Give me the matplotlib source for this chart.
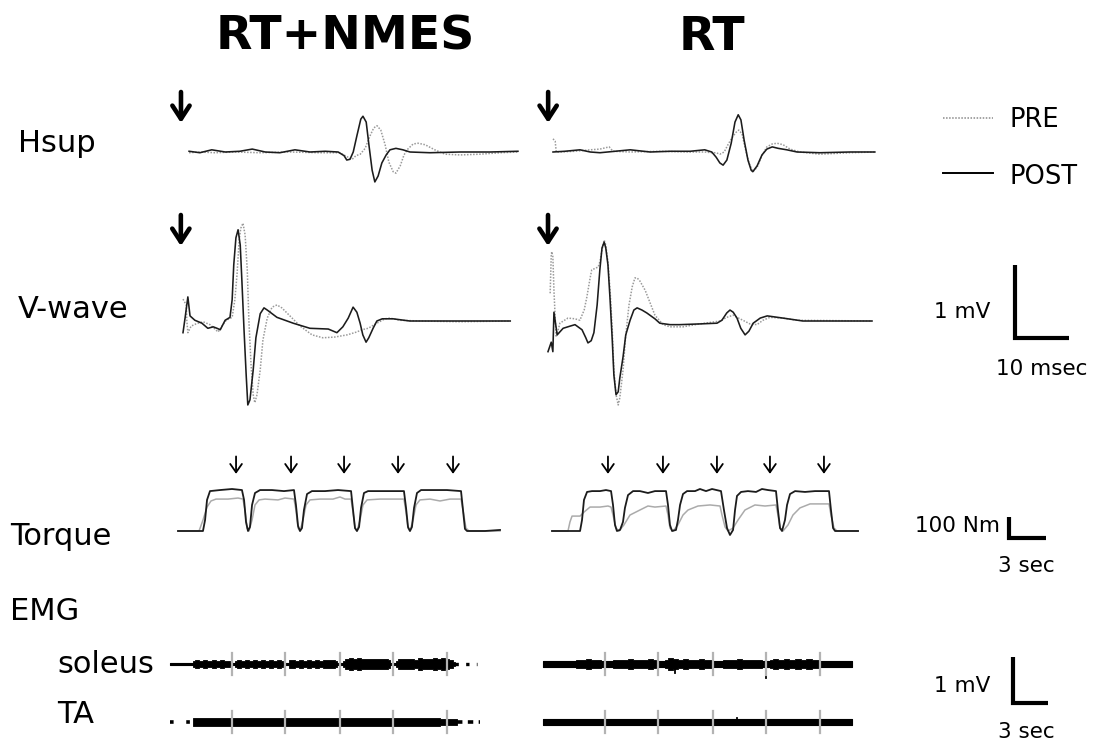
import numpy as np
import matplotlib
matplotlib.use("Agg")
import matplotlib.pyplot as plt
from matplotlib.lines import Line2D

plt.rcParams['font.family'] = ['DejaVu Sans']

W, H = 1099, 745
fig = plt.figure(figsize=(W / 100, H / 100), dpi=100)

# ---------------- data ----------------
# Hsup recordings: time (ms), amplitude (mV)
hsup_nmes_post_t = [0.2, 2.2, 4.4, 6.9, 9.6, 11.9, 14.3, 17.0, 19.8, 22.6, 25.4, 27.8, 28.9, 29.4, 30.0, 30.6, 31.3,
                    32.0, 32.4, 33.0, 33.5, 34.1, 34.6, 35.2, 35.9, 36.7, 37.4, 38.5, 39.8, 41.1, 44.8, 50.4, 55.9, 61.1]
hsup_nmes_post_v = [0.01, -0.01, 0.03, 0.0, 0.01, 0.04, 0.0, -0.01, 0.03, 0.0, 0.01, 0.0, -0.05, -0.11, -0.10, 0.0,
                    0.23, 0.45, 0.49, 0.41, 0.10, -0.25, -0.41, -0.33, -0.15, -0.04, 0.03, 0.05, 0.03, 0.0, -0.01,
                    0.0, 0.0, 0.01]
hsup_nmes_pre_t = [0.2, 2.2, 5.0, 8.7, 13.3, 18.9, 24.4, 28.1, 29.6, 30.4, 31.1, 31.9, 32.8, 33.7, 34.4, 35.0, 35.7,
                   36.5, 37.2, 38.0, 38.5, 39.3, 40.0, 40.7, 41.7, 42.6, 43.9, 45.7, 47.6, 50.4, 54.1, 57.8, 61.1]
hsup_nmes_pre_v = [-0.01, 0.0, -0.01, 0.0, -0.01, 0.0, -0.01, -0.01, -0.07, -0.10, -0.05, -0.03, 0.05, 0.22, 0.33,
                   0.36, 0.30, 0.10, -0.14, -0.27, -0.29, -0.19, -0.04, 0.04, 0.11, 0.12, 0.10, 0.03, -0.03, -0.04,
                   -0.03, -0.01, 0.0]
hsup_rt_post_t = [0, 2.2, 5.0, 6.9, 8.7, 11.5, 14.3, 18.0, 21.7, 25.4, 28.1, 29.4, 30.2, 30.9, 31.5, 32.2, 33.0,
                  33.7, 34.3, 34.8, 35.4, 36.1, 36.7, 37.0, 37.8, 38.7, 39.6, 40.6, 41.7, 43.3, 45.2, 49.4, 55.0, 59.6]
hsup_rt_post_v = [0, 0.01, 0.03, 0, -0.01, 0.01, 0.03, 0, 0.01, 0.01, 0.03, 0, -0.07, -0.15, -0.18, -0.11, 0.12,
                  0.41, 0.51, 0.44, 0.16, -0.11, -0.25, -0.27, -0.19, -0.04, 0.04, 0.07, 0.05, 0.03, 0, -0.01, 0, 0]
hsup_rt_pre_t = [0, 0.4, 0.6, 1.3, 4.1, 6.9, 8.7, 10.4, 11.1, 14.3, 19.8, 25.4, 28.1, 29.4, 30.2, 30.9, 31.7, 32.4,
                 33.1, 33.9, 34.4, 35.0, 35.6, 36.3, 37.0, 37.8, 38.7, 39.6, 40.6, 41.5, 42.6, 43.9, 45.7, 49.4,
                 55.0, 59.6]
hsup_rt_pre_v = [0.18, 0.15, 0, 0, 0.01, 0.03, 0.04, 0.07, 0.01, 0, 0.01, 0, 0, -0.01, -0.01, -0.03, 0, 0.10, 0.19,
                 0.27, 0.30, 0.25, 0.05, -0.15, -0.27, -0.21, -0.05, 0.07, 0.11, 0.12, 0.10, 0.04, 0, -0.03, -0.01, 0]

# V-wave recordings: time (ms), amplitude (mV)
vwave_nmes_post_t = [0, 0.4, 0.9, 1.3, 2.2, 3.5, 4.6, 5.6, 6.3, 6.9, 7.8, 8.7, 9.1, 9.4, 9.8, 10.2, 10.6, 10.9, 11.3,
                     11.7, 12.0, 12.4, 13.0, 13.5, 14.3, 15.0, 15.6, 17.4, 20.4, 23.5, 26.9, 28.5, 29.6, 30.6, 31.5,
                     32.2, 32.8, 33.3, 33.9, 34.4, 35.2, 35.9, 36.9, 38.9, 42.0, 49.4, 60.6]
vwave_nmes_post_v = [-0.16, 0.05, 0.33, 0.07, 0.01, -0.03, -0.10, -0.08, -0.10, -0.12, 0.01, 0.05, 0.29, 0.77, 1.14,
                     1.25, 1.04, 0.56, -0.12, -0.74, -1.15, -1.08, -0.67, -0.23, 0.10, 0.18, 0.15, 0.05, -0.03, -0.10,
                     -0.11, -0.16, -0.08, 0.04, 0.19, 0.12, -0.03, -0.19, -0.29, -0.23, -0.10, 0, 0.03, 0.03, 0, 0, 0]
vwave_nmes_pre_t = [0, 0.6, 0.7, 0.9, 1.5, 2.4, 3.7, 5.0, 6.5, 7.2, 8.0, 9.1, 9.6, 10.0, 10.4, 10.7, 11.1, 11.5, 11.9,
                    12.2, 12.6, 13.0, 13.3, 13.7, 14.3, 14.8, 15.6, 16.5, 17.4, 18.3, 19.8, 21.7, 23.9, 25.9, 28.1,
                    30.4, 32.2, 33.1, 34.3, 35.9, 37.4, 38.3, 40.2, 43.9, 51.3, 60.6]
vwave_nmes_pre_v = [0.30, 0.22, 0.01, -0.16, -0.07, -0.04, -0.01, -0.05, -0.15, -0.07, 0.01, 0.05, 0.29, 0.63, 1.11,
                    1.27, 1.34, 1.18, 0.70, 0.01, -0.60, -1.01, -1.12, -1.01, -0.67, -0.26, 0.04, 0.19, 0.22, 0.18,
                    0.07, -0.07, -0.19, -0.23, -0.22, -0.19, -0.15, -0.12, -0.10, -0.03, 0.03, 0.04, 0.01, 0, -0.01, 0]
vwave_rt_post_t = [0, 0.6, 0.9, 1.1, 1.7, 2.8, 4.1, 5.0, 6.3, 7.0, 7.4, 8.0, 8.5, 9.1, 9.6, 10.0, 10.4, 10.7, 11.1,
                   11.5, 11.9, 12.2, 12.6, 13.0, 13.3, 13.9, 14.4, 15.2, 15.9, 16.5, 17.4, 18.3, 19.8, 20.7, 22.6,
                   24.4, 28.1, 31.3, 32.2, 33.1, 33.7, 34.3, 35.0, 35.7, 36.5, 37.2, 38.0, 39.3, 40.6, 43.5, 47.2, 60.0]
vwave_rt_post_v = [-0.42, -0.29, -0.42, 0.12, -0.19, -0.10, -0.07, -0.05, -0.12, -0.23, -0.30, -0.27, -0.16, 0.22,
                   0.70, 1.00, 1.08, 1.00, 0.77, 0.29, -0.26, -0.74, -1.01, -0.97, -0.78, -0.49, -0.19, 0.01, 0.15,
                   0.18, 0.15, 0.11, 0.03, -0.03, -0.05, -0.05, -0.04, -0.03, 0.01, 0.11, 0.15, 0.12, 0.04, -0.10,
                   -0.19, -0.14, -0.03, 0.04, 0.07, 0.04, 0, 0]
vwave_rt_pre_t = [0.4, 0.6, 0.7, 0.9, 1.1, 1.5, 1.9, 2.2, 3.7, 5.0, 5.9, 6.7, 7.2, 7.8, 8.1, 9.3, 9.6, 10.0, 10.4,
                  10.7, 11.1, 11.5, 11.9, 12.2, 12.6, 13.0, 13.3, 13.9, 14.4, 15.0, 15.6, 16.1, 16.5, 17.0, 18.0,
                  18.9, 19.8, 21.3, 22.6, 25.0, 28.1, 31.9, 33.1, 34.3, 35.0, 36.1, 37.4, 38.7, 39.8, 41.1, 43.5,
                  46.1, 60.0]
vwave_rt_pre_v = [0.38, 0.90, 0.95, 0.88, 0.42, -0.22, -0.12, -0.03, 0.04, 0.03, 0.01, 0.15, 0.33, 0.59, 0.70, 0.74,
                  0.81, 0.97, 1.11, 1.04, 0.81, 0.42, -0.12, -0.67, -1.01, -1.15, -1.05, -0.67, -0.19, 0.22, 0.47,
                  0.59, 0.59, 0.55, 0.42, 0.25, 0.08, -0.05, -0.08, -0.08, -0.04, 0, 0.05, 0.08, 0.05, 0.01, -0.04,
                  -0.05, 0.01, 0.05, 0.04, 0.01, 0]

# Torque: time (s), torque (Nm)
torque_nmes_post_t = [0, 2.03, 2.20, 2.36, 2.60, 3.41, 4.39, 5.20, 5.37, 5.53, 5.69, 5.85, 6.02, 6.26, 6.67, 7.64,
                      8.62, 9.43, 9.59, 9.76, 9.92, 10.08, 10.24, 10.49, 10.89, 11.95, 13.01, 14.07, 14.23, 14.39,
                      14.55, 14.72, 14.88, 15.12, 15.45, 16.42, 17.40, 18.37, 18.54, 18.70, 18.86, 19.02, 19.19,
                      19.43, 19.76, 20.73, 21.87, 23.01, 23.17, 23.33, 23.50, 24.96, 26.18]
torque_nmes_post_nm = [0, 0, 52, 148, 190, 195, 200, 195, 148, 43, 0, 19, 124, 181, 195, 195, 190, 195, 124, 24, 0,
                       14, 100, 176, 190, 190, 195, 190, 100, 14, 0, 19, 110, 181, 190, 190, 190, 190, 110, 19, 0,
                       19, 110, 181, 195, 195, 195, 190, 100, 10, 0, 0, 5]
torque_nmes_pre_t = [0, 1.71, 2.03, 2.36, 2.68, 3.09, 4.07, 4.88, 5.28, 5.45, 5.61, 5.77, 6.02, 6.26, 6.59, 7.07,
                     8.13, 8.70, 9.43, 9.59, 9.76, 9.92, 10.16, 10.41, 10.73, 11.54, 12.60, 13.17, 13.58, 14.07,
                     14.23, 14.39, 14.55, 14.80, 15.04, 15.37, 16.42, 17.48, 18.37, 18.54, 18.70, 18.86, 19.11,
                     19.35, 19.67, 20.49, 21.30, 22.11, 23.01, 23.17, 23.41, 23.66, 24.96, 26.18]
torque_nmes_pre_nm = [0, 0, 52, 114, 143, 152, 152, 157, 152, 100, 14, 0, 52, 124, 148, 152, 148, 157, 152, 100, 14,
                      0, 52, 124, 148, 152, 152, 162, 152, 152, 90, 14, 0, 52, 124, 148, 152, 152, 152, 90, 14, 0,
                      52, 124, 148, 152, 143, 152, 152, 100, 14, 0, 0, 0]
torque_rt_post_t = [0, 2.28, 2.44, 2.60, 2.85, 3.25, 3.90, 4.39, 4.80, 4.96, 5.12, 5.28, 5.53, 5.77, 5.93, 6.18,
                    6.59, 7.15, 7.80, 8.37, 9.27, 9.43, 9.59, 9.76, 10.08, 10.24, 10.41, 10.65, 10.98, 11.63, 12.03,
                    12.52, 13.01, 13.74, 13.98, 14.23, 14.47, 14.72, 14.88, 15.04, 15.37, 15.93, 16.59, 17.07,
                    17.56, 18.21, 18.37, 18.54, 18.70, 18.94, 19.11, 19.35, 19.76, 20.57, 21.38, 22.52, 22.68,
                    22.85, 23.01, 24.88]
torque_rt_post_nm = [0, 0, 52, 148, 186, 190, 190, 195, 190, 124, 29, 0, 5, 43, 110, 171, 190, 190, 181, 190, 190,
                     124, 29, 0, 5, 52, 124, 176, 190, 190, 200, 190, 200, 190, 100, 14, -19, 5, 100, 167, 186, 190,
                     186, 200, 195, 190, 100, 14, 0, 52, 124, 176, 190, 186, 190, 190, 100, 14, 0, 0]
torque_rt_pre_t = [0, 1.30, 1.46, 1.63, 2.28, 2.60, 3.09, 3.90, 4.55, 4.80, 4.96, 5.20, 5.45, 5.85, 6.34, 7.15,
                   7.80, 8.37, 9.27, 9.43, 9.59, 9.84, 10.24, 10.65, 11.06, 11.87, 12.85, 13.66, 13.82, 14.07,
                   14.31, 14.72, 15.12, 15.69, 16.50, 17.32, 18.21, 18.37, 18.54, 18.78, 19.19, 19.59, 20.16,
                   20.98, 21.79, 22.52, 22.68, 22.93, 23.17, 24.88]
torque_rt_pre_nm = [0, 0, 43, 71, 71, 90, 114, 114, 119, 114, 76, 14, 0, 29, 76, 100, 119, 114, 119, 76, 14, 0, 29,
                    76, 100, 119, 124, 119, 76, 19, 0, 14, 52, 100, 124, 119, 124, 76, 14, 0, 29, 76, 110, 129, 129,
                    129, 76, 14, 0, 0]
# stimulation times during the contractions (s)
stim_nmes_s = [4.72, 9.19, 13.50, 17.89, 22.36]
stim_rt_s = [4.55, 9.02, 13.41, 17.72, 22.11]
# stimulus onset for the evoked responses (ms)
stim_hsup_ms = [-1.3, -0.9]
stim_vwave_ms = [-0.4, 0.0]

# EMG: burst onsets/offsets (s) and half-amplitude envelope (mV), sampled evenly within each burst
emg_marks_s = [5.30, 9.83, 14.53, 19.06, 23.68]
sol_nmes_on = [1.97, 5.56, 10.17, 14.79, 19.32]
sol_nmes_off = [5.13, 9.66, 14.27, 18.80, 24.36]
sol_nmes_amp = [[0.06, 0.08, 0.07, 0.09, 0.075, 0.08, 0.075, 0.085, 0.075, 0.06],
                [0.06, 0.09, 0.075, 0.08, 0.075, 0.085, 0.075, 0.08, 0.075, 0.085, 0.075, 0.09, 0.06],
                [0.09, 0.08, 0.075, 0.085, 0.075, 0.08, 0.075, 0.09, 0.075, 0.08, 0.09, 0.08, 0.06],
                [0.06, 0.11, 0.12, 0.10, 0.13, 0.11, 0.115, 0.10, 0.115, 0.11, 0.10, 0.105, 0.08],
                [0.06, 0.11, 0.105, 0.10, 0.115, 0.09, 0.12, 0.105, 0.115, 0.105, 0.12, 0.105, 0.12, 0.105, 0.08,
                 0.045]]
sol_nmes_rest = 0.026
sol_nmes_span = [0.0, 24.4, 26.2]
sol_nmes_spikes = [(23.68, -0.20, 0.24)]

ta_nmes_on = [1.97]
ta_nmes_off = [24.53]
ta_nmes_amp = [[0.08, 0.085, 0.085, 0.08, 0.09, 0.085, 0.08, 0.085, 0.085, 0.08, 0.085, 0.09, 0.08, 0.085, 0.085,
                0.085, 0.08, 0.085, 0.08, 0.085, 0.085, 0.08, 0.075, 0.07]]
ta_nmes_span = [0.0, 1.97, 24.53, 26.5]

sol_rt_on = [2.56, 5.73, 10.43, 15.13, 19.40]
sol_rt_off = [5.21, 9.66, 14.44, 18.97, 23.68]
sol_rt_amp = [[0.07, 0.09, 0.08, 0.10, 0.08, 0.09, 0.07],
              [0.07, 0.08, 0.09, 0.08, 0.10, 0.09, 0.08, 0.09, 0.10, 0.08],
              [0.09, 0.12, 0.10, 0.09, 0.10, 0.08, 0.09, 0.10, 0.08, 0.09],
              [0.07, 0.09, 0.08, 0.09, 0.10, 0.08, 0.09, 0.08, 0.09, 0.07],
              [0.08, 0.10, 0.09, 0.10, 0.09, 0.10, 0.09, 0.10, 0.09, 0.08]]
sol_rt_rest = 0.055
sol_rt_span = [0.0, 26.4]
sol_rt_spikes = [(9.83, -0.20, 0.05), (11.3, -0.20, 0.05), (19.06, -0.30, 0.05)]

ta_rt_rest = 0.055
ta_rt_span = [0.0, 26.4]
ta_rt_spikes = [(16.6, -0.03, 0.09)]

# ---------------- layout helpers ----------------
WAVE = (5.4, 73.0)      # px per ms, px per mV
TORQ = (12.3, 0.21)     # px per s, px per Nm
EMG = (11.7, 46.0)      # px per s, px per mV


def panel(box, origin, scale):
    l, t, r, b = box
    x0, y0 = origin
    sx, sy = scale
    ax = fig.add_axes([l / W, 1 - b / H, (r - l) / W, (b - t) / H])
    ax.set_xlim((l - x0) / sx, (r - x0) / sx)
    ax.set_ylim((y0 - b) / sy, (y0 - t) / sy)
    ax.set_axis_off()
    return ax


POST_KW = dict(color='#1c1c1c', lw=1.15, clip_on=False, zorder=3)
PRE_KW = dict(color='#9a9a9a', lw=1.1, ls=(0, (1, 1)), clip_on=False, zorder=2)


def stim_arrow(ax, t, top_px, tip_px):
    ax.annotate('', xy=(t, H - tip_px), xytext=(t, H - top_px),
                xycoords=('data', 'figure pixels'), textcoords=('data', 'figure pixels'),
                arrowprops=dict(arrowstyle='->,head_length=0.95,head_width=0.62', lw=3.3,
                                color='black', mutation_scale=10, shrinkA=0, shrinkB=0))


# ---------------- Hsup ----------------
hs_l = panel((160, 80, 540, 200), (188, 152), WAVE)
hs_l.plot(hsup_nmes_pre_t, hsup_nmes_pre_v, **PRE_KW)
hs_l.plot(hsup_nmes_post_t, hsup_nmes_post_v, **POST_KW)
stim_arrow(hs_l, stim_hsup_ms[0], 92, 123)

hs_r = panel((530, 80, 900, 200), (553, 152), WAVE)
hs_r.plot(hsup_rt_pre_t, hsup_rt_pre_v, **PRE_KW)
hs_r.plot(hsup_rt_post_t, hsup_rt_post_v, **POST_KW)
stim_arrow(hs_r, stim_hsup_ms[1], 92, 123)

# ---------------- V-wave ----------------
vw_l = panel((160, 200, 540, 420), (183, 321), WAVE)
vw_l.plot(vwave_nmes_pre_t, vwave_nmes_pre_v, **PRE_KW)
vw_l.plot(vwave_nmes_post_t, vwave_nmes_post_v, **POST_KW)
stim_arrow(vw_l, stim_vwave_ms[0], 215, 246)

vw_r = panel((530, 200, 900, 420), (548, 321), WAVE)
vw_r.plot(vwave_rt_pre_t, vwave_rt_pre_v, **PRE_KW)
vw_r.plot(vwave_rt_post_t, vwave_rt_post_v, **POST_KW)
stim_arrow(vw_r, stim_vwave_ms[1], 215, 246)

# ---------------- Torque ----------------
TQ_PRE = dict(color='#ababab', lw=1.1, clip_on=False, zorder=2)
TQ_POST = dict(color='#1c1c1c', lw=1.3, clip_on=False, zorder=3)


def stim_marks(ax, times):
    for t in times:
        ax.annotate('', xy=(t, 272), xytext=(t, 355),
                    arrowprops=dict(arrowstyle='->,head_length=0.6,head_width=0.42', lw=1.3,
                                    color='black', mutation_scale=10, shrinkA=0, shrinkB=0))


tq_l = panel((160, 440, 520, 545), (178, 531), TORQ)
tq_l.plot(torque_nmes_pre_t, torque_nmes_pre_nm, **TQ_PRE)
tq_l.plot(torque_nmes_post_t, torque_nmes_post_nm, **TQ_POST)
stim_marks(tq_l, stim_nmes_s)

tq_r = panel((530, 440, 880, 545), (552, 531), TORQ)
tq_r.plot(torque_rt_pre_t, torque_rt_pre_nm, **TQ_PRE)
tq_r.plot(torque_rt_post_t, torque_rt_post_nm, **TQ_POST)
stim_marks(tq_r, stim_rt_s)

# ---------------- EMG ----------------


def emg_bursts(ax, on, off, amps):
    for a, b, env in zip(on, off, amps):
        t = np.linspace(a, b, len(env))
        e = np.asarray(env)
        ax.fill_between(t, -e, e, step='mid', color='black', lw=0.6, edgecolor='black',
                        zorder=3, clip_on=False)


def emg_rest(ax, start, stop, amp):
    ax.fill_between([start, stop], [-amp, -amp], [amp, amp], color='black', lw=0.8,
                    edgecolor='black', zorder=3, clip_on=False)


def emg_spikes(ax, spikes):
    for t, lo, hi in spikes:
        ax.plot([t, t], [lo, hi], color='black', lw=1.3, zorder=4, clip_on=False)


def emg_marks(ax, times):
    for t in times:
        ax.plot([t, t], [-0.24, 0.25], color='#b3b3b3', lw=1.6, zorder=5, clip_on=False)


sol_l = panel((160, 640, 520, 690), (170, 664), EMG)
emg_rest(sol_l, sol_nmes_span[0], sol_nmes_span[1], sol_nmes_rest)
emg_bursts(sol_l, sol_nmes_on, sol_nmes_off, sol_nmes_amp)
sol_l.plot(sol_nmes_span[1:], [0, 0], color='black', lw=2.4, ls=(0, (1, 2.2)), clip_on=False)
emg_spikes(sol_l, sol_nmes_spikes)
emg_marks(sol_l, emg_marks_s)

ta_l = panel((160, 700, 520, 745), (170, 722), EMG)
ta_l.plot(ta_nmes_span[0:2], [0, 0], color='black', lw=2.6, ls=(0, (1, 3.5)), clip_on=False)
emg_bursts(ta_l, ta_nmes_on, ta_nmes_off, ta_nmes_amp)
ta_l.plot(ta_nmes_span[2:], [0, 0], color='black', lw=2.6, ls=(0, (1.5, 1.5)), clip_on=False)
emg_marks(ta_l, emg_marks_s)

sol_r = panel((530, 640, 880, 690), (543, 664), EMG)
emg_rest(sol_r, sol_rt_span[0], sol_rt_span[1], sol_rt_rest)
emg_bursts(sol_r, sol_rt_on, sol_rt_off, sol_rt_amp)
emg_spikes(sol_r, sol_rt_spikes)
emg_marks(sol_r, emg_marks_s)

ta_r = panel((530, 700, 880, 745), (543, 722), EMG)
emg_rest(ta_r, ta_rt_span[0], ta_rt_span[1], ta_rt_rest)
emg_spikes(ta_r, ta_rt_spikes)
emg_marks(ta_r, emg_marks_s)

# ---------------- scale bars ----------------
BAR = dict(color='black', lw=3.0, solid_joinstyle='miter', solid_capstyle='butt', clip_on=False)
wave_bar = panel((1000, 255, 1080, 345), (1015, 338), WAVE)
wave_bar.plot([0, 0, 10], [1, 0, 0], **BAR)
torq_bar = panel((1000, 510, 1060, 545), (1009, 538), TORQ)
torq_bar.plot([0, 0, 3], [100, 0, 0], **BAR)
emg_bar = panel((1000, 650, 1060, 710), (1013, 703), EMG)
emg_bar.plot([0, 0, 3], [1, 0, 0], **BAR)

# ---------------- text ----------------


def txt(x, y, s, size, ha='left', weight='normal'):
    fig.text(x / W, 1 - y / H, s, fontsize=size, ha=ha, va='baseline', fontweight=weight, color='black')


txt(345, 50, 'RT+NMES', 34, ha='center', weight='bold')
txt(712, 50, 'RT', 34, ha='center', weight='bold')

txt(18, 152, 'Hsup', 22)
txt(18, 318, 'V-wave', 22)
txt(10, 545, 'Torque', 22)
txt(10, 620, 'EMG', 22)
txt(57, 673, 'soleus', 22)
txt(57, 723, 'TA', 22)

txt(1009, 127, 'PRE', 18.5)
txt(1009, 184, 'POST', 18.5)
fig.add_artist(Line2D([943 / W, 993 / W], [1 - 118 / H, 1 - 118 / H], transform=fig.transFigure,
                      color='#8a8a8a', lw=1.1, ls=(0, (1, 1))))
fig.add_artist(Line2D([943 / W, 993 / W], [1 - 173 / H, 1 - 173 / H], transform=fig.transFigure,
                      color='black', lw=1.4))

txt(990, 318, '1 mV', 15.5, ha='right')
txt(1042, 375, '10 msec', 15.5, ha='center')
txt(1000, 532, '100 Nm', 15.5, ha='right')
txt(1026, 572, '3 sec', 15.5, ha='center')
txt(990, 692, '1 mV', 15.5, ha='right')
txt(1026, 738, '3 sec', 15.5, ha='center')

fig.savefig('out.png', dpi=100, facecolor='white')
